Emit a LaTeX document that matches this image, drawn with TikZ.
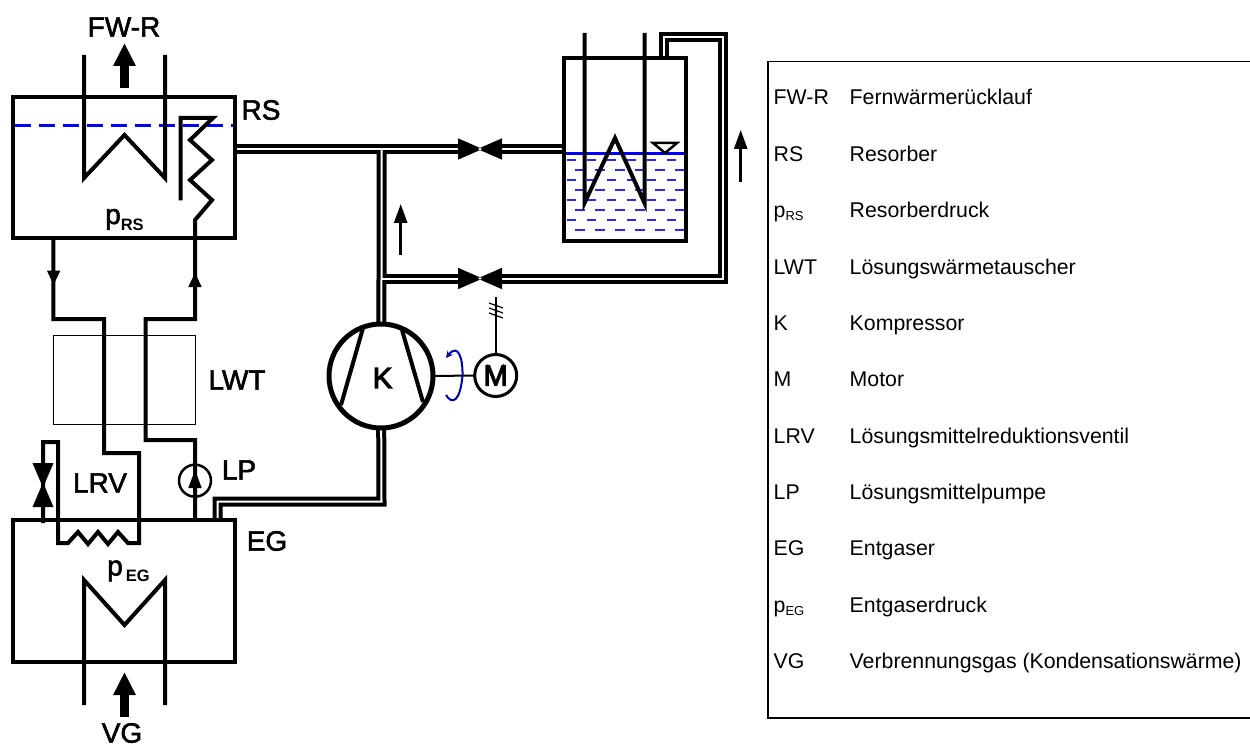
\documentclass[tikz,border=0pt]{standalone}
\usepackage{fontspec}
\setmainfont{Liberation Sans}
\newfontfamily\heavyfont[FakeBold=2]{Liberation Sans}
\newfontfamily\blackfont[FakeBold=4]{Liberation Sans}
\usetikzlibrary{arrows.meta}
\pgfdeclarelayer{background}
\pgfsetlayers{background,main}
\definecolor{rotblue}{RGB}{0,0,170}
\definecolor{levelblue}{RGB}{40,40,255}
\newcommand{\bigsize}{\heavyfont\fontsize{28}{30}\selectfont}
\newcommand{\legsize}{\fontsize{21.3}{24}\selectfont}
\newcommand{\legsub}[1]{\raisebox{-3pt}{\fontsize{13}{13}\selectfont #1}}
\newcommand{\bigsub}[1]{\raisebox{-6pt}{\normalfont\bfseries\fontsize{16.5}{16.5}\selectfont #1}}
\tikzstyle{box}=[draw,line width=4pt,inner sep=0pt,outer sep=0pt]
\tikzstyle{biglabel}=[font=\bigsize,inner sep=0pt]
\tikzstyle{legtext}=[font=\legsize,inner sep=0pt,anchor=base west]
\tikzstyle{line}=[draw,line width=4pt]
\tikzstyle{flow}=[draw,line width=2.5pt,-{Triangle[length=19pt,width=13pt]}]
\tikzstyle{bigflow}=[draw,line width=9pt,-{Triangle[length=23pt,width=21pt]}]
\tikzstyle{level}=[draw=levelblue,line width=1.4pt]

\begin{document}
\begin{tikzpicture}[x=1pt,y=-1pt]
    \useasboundingbox (0,0) rectangle (1250,746);

    % First we draw the vessels
    \node[box,minimum width=222pt,minimum height=141pt] (RS) at (124,167.5) {};
    \node[box,minimum width=222pt,minimum height=142pt] (EG) at (124,591) {};
    \node[box,minimum width=122pt,minimum height=182.5pt] (AB) at (625,149.5) {};
    \node[draw,line width=1pt,inner sep=0pt,outer sep=0pt,minimum width=141.7pt,minimum height=88.7pt] (LWT) at (124.2,379.7) {};
    \node[circle,draw,fill=white,line width=5pt,inner sep=0pt,outer sep=0pt,minimum size=104pt] (K) at (381,376) {};
    \node[circle,draw,fill=white,line width=3pt,inner sep=0pt,outer sep=0pt,minimum size=42pt,font=\blackfont\fontsize{29}{30}\selectfont] (M) at (495.7,375.5) {M};
    \node[circle,draw,line width=2.5pt,inner sep=0pt,outer sep=0pt,minimum size=32pt] (LP) at (195,480.7) {};
    \node[font=\blackfont\fontsize{29}{30}\selectfont,inner sep=0pt] (Ktext) at (382.5,378) {K};

    % Valves and junctions
    \foreach \pos/\name in {{(480,149)/V1}, {(480,278.5)/V2}, {(43,485)/V3}, {(381.5,149)/J1}, {(381.5,278.5)/J2}, {(722.5,278.5)/C1}, {(722.5,37.5)/C2}, {(664,37.5)/C3}, {(217.5,501.5)/C4}, {(381.5,501.5)/C5}, {(466,149)/V1a}, {(494,149)/V1b}, {(466,278.5)/V2a}, {(494,278.5)/V2b}}
        \path \pos coordinate (\name);

    % Double pipes, black first and white on top
    \begin{pgfonlayer}{background}
    \foreach \wid/\col in {10/black,2/white} {
        \draw[line width=\wid pt,color=\col] (RS.east |- V1) -- (V1a);
        \draw[line width=\wid pt,color=\col] (V1b) -- (AB.west |- V1);
        \draw[line width=\wid pt,color=\col] (K) -- (J2) -- (J1);
        \draw[line width=\wid pt,color=\col] (J2) -- (V2a);
        \draw[line width=\wid pt,color=\col] (V2b) -- (C1) -- (C2) -- (C3) -- (AB.north -| C3);
        \draw[line width=\wid pt,color=\col] (K) -- (C5) -- (C4) -- (EG.north -| C4);
    }
    \end{pgfonlayer}

    \foreach \name in {V1,V2}
        \fill (\name) ++(2.5,0) -- ++(-24.5,-10.7) -- ++(0,21.4) -- cycle (\name) ++(-2.5,0) -- ++(24.5,-10.7) -- ++(0,21.4) -- cycle;
    \fill (V3) ++(0,2.5) -- ++(-10.5,-24.5) -- ++(21,0) -- cycle (V3) ++(0,-2.5) -- ++(-10.5,24.5) -- ++(21,0) -- cycle;

    % Resorber inside
    \draw[blue,line width=3pt,dash pattern=on 16pt off 8pt] (15,125.5) -- (233,125.5);
    \path[line] (84,55) -- (84,178) -- (124.5,135) -- (165,178) -- (165,55);
    \path[line] (180.5,200.5) -- (180.5,118) -- (213,118) -- (190,140) -- (212,160) -- (190,180) -- (212,200) -- (195,220) -- (RS.south -| LWT.east);
    \draw[bigflow] (124.5,88) -- (124.5,43);

    % Solution lines
    \path[line] (RS.south -| LWT.west) -- (LWT.west |- 0,319) -- (104,319) -- (104,453) -- (139,453) -- (139,543) -- (128,543) -- (118,532) -- (108,544) -- (98,532) -- (88,544) -- (78,532) -- (68,543) -- (58,543) -- (58,442) -- (43,442) -- (V3) -- (43,523);
    \path[line] (RS.south -| LWT.east) -- (LWT.east |- 0,319) -- (145.5,319) -- (145.5,440) -- (LWT.east |- 0,440) -- (EG.north -| LP);
    \fill (47,270.7) -- (60.3,270.7) -- (53.5,285) -- cycle;
    \fill (188.3,287) -- (201.7,287) -- (195,272.7) -- cycle;
    \fill (188.3,488) -- (201.7,488) -- (195,470) -- cycle;

    % Entgaser inside
    \path[line] (84,705) -- (84,580) -- (124.5,625) -- (165,580) -- (165,705);
    \draw[bigflow] (124.5,717) -- (124.5,672);

    % Absorber inside
    \foreach \lev in {160,180,200,220}
        \draw[level,dash pattern=on 9pt off 11pt] (566.5,\lev) -- (684,\lev);
    \foreach \lev in {170,190,210,230}
        \draw[level,dash pattern=on 10pt off 10pt] (574.5,\lev) -- (684,\lev);
    \draw[blue,line width=3pt] (566,153.3) -- (684,153.3);
    \path[line] (584.5,33) -- (584.5,203) -- (615,138) -- (644.5,203) -- (644.5,33);
    \draw[line width=2.5pt] (653,143) -- (677,143) -- (665,153) -- cycle;

    % Compressor and motor
    \draw[line width=4pt] (363,328) -- (341,405);
    \draw[line width=4pt] (402,330) -- (423,402);
    \draw[line width=2pt] (K.east) -- (M.west);
    \draw[line width=2pt] (M.north) -- (495.7,297);
    \foreach \tick in {303,308,313}
        \draw[line width=1.2pt] (489,\tick) -- (503,\tick+5);
    \draw[rotblue,line width=2pt,-{Stealth[length=7pt,width=7pt]}] (446,395) .. controls (452,405) and (460,402) .. (462.5,376) .. controls (463,358) and (458,343) .. (446,358);

    \draw[flow] (400.7,255) -- (400.7,204);
    \draw[flow] (740.7,181.7) -- (740.7,130);

    % Labels
    \foreach \pos/\name/\txt in {{(124,27)/lFWR/FW-R}, {(261,110)/lRS/RS}, {(237,380)/lLWT/LWT}, {(239,470)/lLP/LP}, {(100,483)/lLRV/LRV}, {(267,541)/lEG/EG}, {(122,733)/lVG/VG}}
        \node[biglabel] (\name) at \pos {\txt};
    \node[biglabel,anchor=base west] (lpRS) at (105,224) {p\bigsub{RS}};
    \node[biglabel,anchor=base west] (lpEG) at (107,575.5) {p\hspace{3pt}\bigsub{EG}};

    % Legend
    \draw[line width=1.5pt] (1250,61.5) -- (768,61.5) -- (768,718) -- (1250,718);
    \foreach \row/\abbr/\desc [count=\i] in {105/FW-R/Fernwärmerücklauf, 161.3/RS/Resorber, 217.6/{p\legsub{RS}}/Resorberdruck, 274/LWT/Lösungswärmetauscher, 330/K/Kompressor, 386.5/M/Motor, 443/LRV/Lösungsmittelreduktionsventil, 499/LP/Lösungsmittelpumpe, 555.5/EG/Entgaser, 612/{p\legsub{EG}}/Entgaserdruck, 668/VG/Verbrennungsgas (Kondensationswärme)} {
        \node[legtext] (abbr\i) at (773.5,\row) {\abbr};
        \node[legtext] (desc\i) at (849.5,\row) {\desc};
    }
\end{tikzpicture}
\end{document}
